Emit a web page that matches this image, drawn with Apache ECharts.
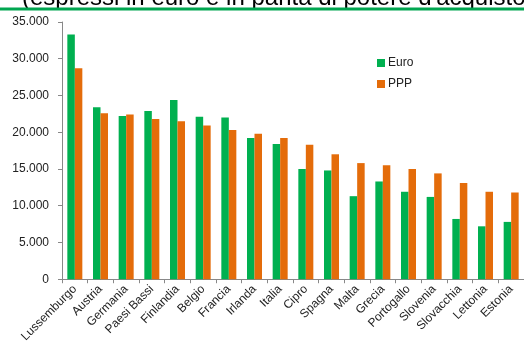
<!DOCTYPE html>
<html>
<head>
<meta charset="utf-8">
<script src="https://cdn.jsdelivr.net/npm/echarts@6/dist/echarts.min.js"></script>
<style>
html,body{margin:0;padding:0;background:#fff;}
#c{width:524px;height:345px;}
</style>
</head>
<body>
<div id="c"></div>
<script>
const titleText = "(espressi in euro e in parità di potere d'acquisto)";
const categories = ["Lussemburgo","Austria","Germania","Paesi Bassi","Finlandia","Belgio","Francia","Irlanda","Italia","Cipro","Spagna","Malta","Grecia","Portogallo","Slovenia","Slovacchia","Lettonia","Estonia"];
const euroValues = [33300,23400,22200,22900,24400,22100,22000,19200,18400,15000,14800,11300,13300,11900,11200,8200,7200,7800];
const pppValues  = [28700,22600,22400,21800,21500,20900,20300,19800,19200,18300,17000,15800,15500,15000,14400,13100,11900,11800];
const seriesNames = ["Euro","PPP"];
const yTicks = [0,5000,10000,15000,20000,25000,30000,35000];

const chart = echarts.init(document.getElementById('c'), null, {renderer:'canvas'});
const font = 'Arial, "Liberation Sans", sans-serif';
function fmt(v){ return String(v).replace(/\B(?=(\d{3})+(?!\d))/g, '.'); }

chart.setOption({
  animation:false,
  backgroundColor:'#fff',
  title:{
    text:titleText,
    left:22, top:-14, padding:0,
    textStyle:{fontSize:24, fontWeight:'normal', color:'#000', fontFamily:font}
  },
  graphic:[{
    type:'line', z:100,
    shape:{x1:0,y1:9,x2:524,y2:9},
    style:{stroke:'#00a650', lineWidth:3}
  }],
  legend:{
    orient:'vertical', left:377, top:57, padding:0,
    itemWidth:8, itemHeight:8, itemGap:9,
    icon:'rect',
    textStyle:{fontSize:12, color:'#222', fontFamily:font, padding:[0,0,0,-2]},
    data:seriesNames
  },
  grid:{left:62, top:22, width:468, bottom:65, containLabel:false},
  xAxis:{
    type:'category', data:categories,
    axisLine:{lineStyle:{color:'#888', width:1}},
    axisTick:{show:true, length:4, lineStyle:{color:'#888'}},
    axisLabel:{rotate:45, interval:0, margin:8, fontSize:12, color:'#222', fontFamily:font}
  },
  yAxis:{
    type:'value', min:yTicks[0], max:yTicks[yTicks.length-1], interval:yTicks[1]-yTicks[0],
    axisLine:{show:true, lineStyle:{color:'#888', width:1}},
    axisTick:{show:true, length:4, lineStyle:{color:'#888'}},
    splitLine:{show:false},
    axisLabel:{margin:13, fontSize:12, color:'#222', fontFamily:font, formatter:fmt}
  },
  series:[
    {name:seriesNames[0], type:'bar', data:euroValues, barWidth:7.5, barGap:'0%',
     itemStyle:{color:'#00b050'}},
    {name:seriesNames[1], type:'bar', data:pppValues, barWidth:7.5, barGap:'0%',
     itemStyle:{color:'#e46c0a'}}
  ]
});
</script>
</body>
</html>
